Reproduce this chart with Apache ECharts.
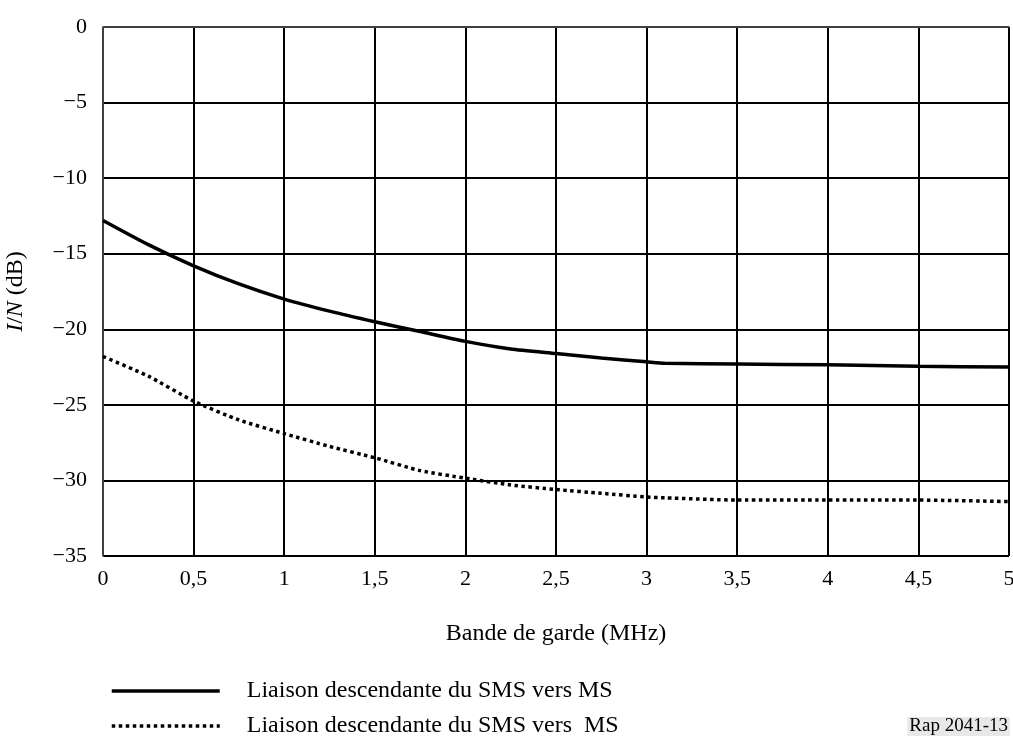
<!DOCTYPE html>
<html><head><meta charset="utf-8">
<script src="https://cdn.jsdelivr.net/npm/echarts@6/dist/echarts.min.js"></script>
<style>html,body{margin:0;padding:0;background:#fff}#c{width:1013px;height:736px}</style>
</head><body><div id="c"></div>
<script>
const xValues = [0, 0.25, 0.5, 0.75, 1, 1.25, 1.5, 1.75, 2, 2.25, 2.5, 2.75, 3, 3.1, 3.5, 4, 4.5, 5];
const solidValues = [-12.8, -14.4, -15.8, -17.0, -18.0, -18.8, -19.5, -20.15, -20.8, -21.3, -21.6, -21.9, -22.15, -22.25, -22.3, -22.35, -22.45, -22.5];
const dottedValues = [-21.8, -23.1, -24.75, -26.0, -26.9, -27.75, -28.5, -29.35, -29.85, -30.3, -30.6, -30.85, -31.1, -31.15, -31.3, -31.3, -31.3, -31.4];
const seriesNames = ['Liaison descendante du SMS vers MS', 'Liaison descendante du SMS vers  MS'];
const xAxisTitle = 'Bande de garde (MHz)';
const figureRef = 'Rap 2041-13';

const font = '"Liberation Serif", "Times New Roman", serif';
const chart = echarts.init(document.getElementById('c'));
const fmt = v => String(v).replace('.', ',').replace('-', '\u2212');
const dotted = [3.5, 3.5];
const legendBase = {
  orient: 'vertical', left: 110, itemWidth: 108, itemHeight: 14, padding: 0,
  itemStyle: { opacity: 0 },
  textStyle: { fontFamily: font, fontSize: 24, color: '#000', padding: [0, 0, 0, 22] }
};
chart.setOption({
  animation: false,
  textStyle: { fontFamily: font, color: '#000' },
  grid: { left: 103, right: 4, top: 27, bottom: 180, outerBoundsMode: 'none', containLabel: false },
  legend: [
    Object.assign({}, legendBase, { top: 679, data: [{ name: seriesNames[0], lineStyle: { width: 3.5, type: 'solid', color: '#000' } }] }),
    Object.assign({}, legendBase, { top: 714, data: [{ name: seriesNames[1], lineStyle: { width: 3.5, type: dotted, color: '#000' } }] })
  ],
  xAxis: {
    type: 'value', min: 0, max: 5, interval: 0.5,
    name: xAxisTitle, nameLocation: 'middle', nameGap: 66,
    nameTextStyle: { fontFamily: font, fontSize: 24, color: '#000' },
    axisLine: { lineStyle: { color: '#555', width: 1.5 } },
    axisTick: { show: false },
    axisLabel: { fontFamily: font, fontSize: 22, color: '#000', margin: 12, formatter: fmt },
    splitLine: { lineStyle: { color: '#000', width: 2 } }
  },
  yAxis: {
    type: 'value', min: -35, max: 0, interval: 5,
    name: '{i|I}{n|/}{i|N}{n| (dB)}', nameLocation: 'middle', nameGap: 75, nameRotate: 90,
    nameTextStyle: { rich: { i: { fontFamily: font, fontSize: 24, fontStyle: 'italic', color: '#000' }, n: { fontFamily: font, fontSize: 24, color: '#000' } } },
    axisLine: { show: true, lineStyle: { color: '#555', width: 1.5 } },
    axisTick: { show: false },
    axisLabel: { fontFamily: font, fontSize: 22, color: '#000', margin: 16, formatter: fmt },
    splitLine: { lineStyle: { color: '#000', width: 2 } }
  },
  series: [
    { name: seriesNames[0], type: 'line', symbol: 'none', smooth: 0.2,
      lineStyle: { color: '#000', width: 3.5 }, itemStyle: { color: '#000' },
      data: xValues.map((x, i) => [x, solidValues[i]]) },
    { name: seriesNames[1], type: 'line', symbol: 'none', smooth: 0.2,
      lineStyle: { color: '#000', width: 3.5, type: dotted }, itemStyle: { color: '#000' },
      data: xValues.map((x, i) => [x, dottedValues[i]]) }
  ],
  graphic: [{
    type: 'text', right: 3, top: 717,
    style: { text: figureRef, font: '19px ' + font, fill: '#000', backgroundColor: '#e8e8e8', padding: [0, 2] }
  }]
});
</script></body></html>
